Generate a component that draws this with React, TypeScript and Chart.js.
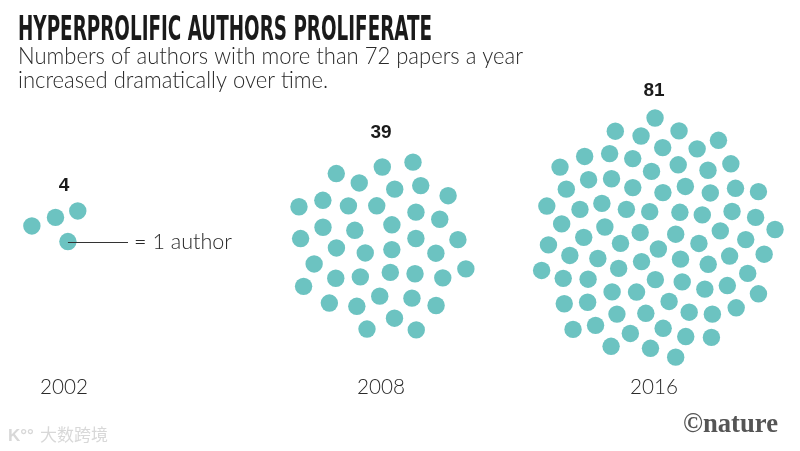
import React, { useEffect, useRef } from "react";
import { Chart, registerables } from "chart.js";

Chart.register(...registerables);

// ---- Data ----
const years = ["2002", "2008", "2016"];
const authorCounts = [4, 39, 81];
const countLabels = ["4", "39", "81"];
const titleText = "HYPERPROLIFIC AUTHORS PROLIFERATE";
const subtitleLines = [
  "Numbers of authors with more than 72 papers a year",
  "increased dramatically over time.",
];
const keyText = "= 1 author";
const creditText = "©nature";
const watermarkText = "大数跨境";

// ---- Layout (not data) ----
const W = 800;
const H = 451;
const clusterX = [55.5, 382, 655];
const clusterY = [228, 246, 240];
const clusterRot = [-90, 20, 69.4];
const clusterSpacing = [15, 14.8, 13.6];
const labelGap = [20, 24, 22];
const yearX = [64, 381, 654];
const DOT = "#6cc3c1";
const SUB_FONT = "300 23px Lato, 'Liberation Sans', sans-serif";

function sunflower(n: number, cx: number, cy: number, rotDeg: number, spacing: number) {
  const golden = Math.PI * (3 - Math.sqrt(5));
  const rot = (rotDeg * Math.PI) / 180;
  const pts: { x: number; y: number }[] = [];
  for (let i = 0; i < n; i++) {
    const r = spacing * Math.sqrt(i + 0.5);
    const a = i * golden + rot;
    pts.push({ x: cx + r * Math.cos(a), y: cy + r * Math.sin(a) });
  }
  return pts;
}

function fitText(
  ctx: CanvasRenderingContext2D,
  text: string,
  x: number,
  baseline: number,
  font: string,
  width: number | null,
  color: string,
  align: "left" | "center" | "right" = "left",
  sx?: number
) {
  ctx.save();
  ctx.font = font;
  ctx.fillStyle = color;
  ctx.textBaseline = "alphabetic";
  ctx.textAlign = "left";
  const m = ctx.measureText(text).width;
  const s = sx ?? (width ? width / m : 1);
  const w = m * s;
  let left = x;
  if (align === "center") left = x - w / 2;
  if (align === "right") left = x - w;
  ctx.translate(left, baseline);
  ctx.scale(s, 1);
  ctx.fillText(text, 0, 0);
  ctx.restore();
  return s;
}

const textPlugin = {
  id: "textPlugin",
  afterDatasetsDraw(chart: any) {
    const ctx: CanvasRenderingContext2D = chart.ctx;
    const xs = chart.scales.x;
    const ys = chart.scales.y;

    fitText(
      ctx,
      titleText,
      18,
      40,
      "bold 33px 'Liberation Sans Narrow', 'DejaVu Sans Condensed', 'Liberation Sans', sans-serif",
      414,
      "#1a1a1a"
    );
    const s1 = fitText(ctx, subtitleLines[0], 18, 64, SUB_FONT, 505, "#2a2a2a");
    fitText(ctx, subtitleLines[1], 18, 88, SUB_FONT, null, "#2a2a2a", "left", s1);

    years.forEach((yr, i) => {
      const meta = chart.getDatasetMeta(i);
      let minY = Infinity;
      meta.data.forEach((el: any) => {
        if (el.y < minY) minY = el.y;
      });
      fitText(
        ctx,
        countLabels[i],
        xs.getPixelForValue(yearX[i]),
        minY - labelGap[i],
        "bold 19px 'Liberation Sans', 'Noto Sans', sans-serif",
        null,
        "#1a1a1a",
        "center"
      );
      fitText(
        ctx,
        yr,
        xs.getPixelForValue(yearX[i]),
        ys.getPixelForValue(394),
        "300 22px Lato, 'Liberation Sans', sans-serif",
        48,
        "#2a2a2a",
        "center"
      );
    });

    // key: line from the lowest dot of the first cluster
    const meta0 = chart.getDatasetMeta(0);
    let key: any = null;
    meta0.data.forEach((el: any) => {
      if (!key || el.y > key.y) key = el;
    });
    if (key) {
      ctx.save();
      ctx.strokeStyle = "#333";
      ctx.lineWidth = 1;
      ctx.beginPath();
      ctx.moveTo(key.x, Math.round(key.y) + 0.5);
      ctx.lineTo(128, Math.round(key.y) + 0.5);
      ctx.stroke();
      ctx.restore();
      fitText(ctx, keyText, 134, key.y + 7, "300 21px Lato, 'Liberation Sans', sans-serif", 98, "#2a2a2a");
    }

    fitText(
      ctx,
      creditText,
      778,
      432,
      "bold 28px 'Liberation Serif', 'DejaVu Serif', serif",
      95,
      "#555",
      "right"
    );
    fitText(ctx, watermarkText, 40, 441, "17px 'Noto Sans CJK SC', sans-serif", null, "#d8d8d8");
    fitText(ctx, "K°°", 8, 441, "bold 17px 'Liberation Sans', sans-serif", null, "#d8d8d8");
  },
};

export default function App() {
  const ref = useRef<HTMLCanvasElement | null>(null);
  useEffect(() => {
    document.body.style.margin = "0";
    if (!ref.current) return;
    const datasets = years.map((yr, i) => ({
      label: yr,
      data: sunflower(authorCounts[i], clusterX[i], clusterY[i], clusterRot[i], clusterSpacing[i]),
      backgroundColor: DOT,
      borderWidth: 0,
      pointRadius: 8.7,
      pointHoverRadius: 8.7,
    }));
    const chart = new Chart(ref.current, {
      type: "scatter",
      data: { datasets },
      options: {
        animation: false,
        responsive: false,
        maintainAspectRatio: false,
        layout: { padding: 0, autoPadding: false },
        plugins: {
          legend: { display: false },
          tooltip: { enabled: false },
          title: { display: false },
        },
        scales: {
          x: { type: "linear", min: 0, max: W, display: false },
          y: { type: "linear", min: 0, max: H, reverse: true, display: false },
        },
      },
      plugins: [textPlugin],
    });
    return () => chart.destroy();
  }, []);
  return (
    <div style={{ width: W, height: H, background: "#fff" }}>
      <canvas ref={ref} width={W} height={H} style={{ display: "block" }} />
    </div>
  );
}
